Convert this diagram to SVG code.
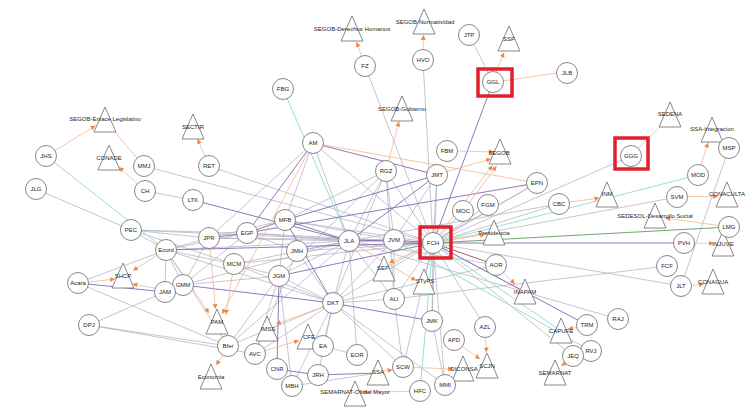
<svg xmlns="http://www.w3.org/2000/svg" xmlns:xlink="http://www.w3.org/1999/xlink" width="750" height="419" viewBox="0 0 750 419">
<style>
.g{stroke:#aeacbf;stroke-width:0.7;fill:none}
.p{stroke:#8468b6;stroke-width:0.9;fill:none}
.t{stroke:#8edbcc;stroke-width:0.9;fill:none}
.gr{stroke:#5f9f5f;stroke-width:0.9;fill:none}
.dr{stroke:#a04848;stroke-width:0.9;fill:none}
.o{stroke:#f4b88f;stroke-width:0.8;fill:none}
.oa{stroke:#f4b88f;stroke-width:0.8;fill:none;marker-end:url(#arr)}
.c{fill:#fff;stroke:#6a6a6a;stroke-width:0.8}
text{font-family:"Liberation Sans",Arial,sans-serif;font-size:6px;fill:#1e1e1e;text-anchor:middle}
.hl{fill:none;stroke:#e2202c;stroke-width:3.5}
</style>
<defs>
<marker id="arr" viewBox="0 0 6 6" refX="6" refY="3" markerWidth="5" markerHeight="5" markerUnits="userSpaceOnUse" orient="auto">
<path d="M0,0 L6,3 L0,6 Z" fill="#f08a4c"/>
</marker>
<path id="tri" d="M0,-13 L11,12 L-11,12 Z" fill="#fff" stroke="#6a6a6a" stroke-width="0.8"/>
</defs>
<rect width="750" height="419" fill="#fff"/>
<g id="edges">
<line class="g" x1="36" y1="189" x2="131" y2="230"/>
<line class="g" x1="144" y1="166" x2="433" y2="243"/>
<line class="g" x1="209" y1="166" x2="433" y2="243"/>
<line class="g" x1="145" y1="191" x2="193" y2="200"/>
<line class="g" x1="131" y1="230" x2="166" y2="250"/>
<line class="g" x1="131" y1="230" x2="209" y2="238"/>
<line class="g" x1="131" y1="230" x2="247" y2="233"/>
<line class="g" x1="131" y1="230" x2="433" y2="243"/>
<line class="g" x1="131" y1="230" x2="234" y2="264"/>
<line class="g" x1="78" y1="283" x2="166" y2="250"/>
<line class="g" x1="78" y1="283" x2="228" y2="346"/>
<line class="g" x1="89" y1="325" x2="165" y2="292"/>
<line class="g" x1="89" y1="325" x2="228" y2="346"/>
<line class="g" x1="89" y1="325" x2="255" y2="354"/>
<line class="g" x1="166" y1="250" x2="165" y2="292"/>
<line class="g" x1="166" y1="250" x2="183" y2="285"/>
<line class="g" x1="166" y1="250" x2="209" y2="238"/>
<line class="g" x1="166" y1="250" x2="247" y2="233"/>
<line class="g" x1="166" y1="250" x2="234" y2="264"/>
<line class="g" x1="166" y1="250" x2="349" y2="241"/>
<line class="g" x1="166" y1="250" x2="333" y2="303"/>
<line class="g" x1="166" y1="250" x2="228" y2="346"/>
<line class="g" x1="165" y1="292" x2="183" y2="285"/>
<line class="g" x1="183" y1="285" x2="209" y2="238"/>
<line class="g" x1="183" y1="285" x2="247" y2="233"/>
<line class="g" x1="183" y1="285" x2="279" y2="276"/>
<line class="g" x1="183" y1="285" x2="349" y2="241"/>
<line class="g" x1="209" y1="238" x2="285" y2="220"/>
<line class="g" x1="209" y1="238" x2="349" y2="241"/>
<line class="g" x1="209" y1="238" x2="394" y2="240"/>
<line class="g" x1="247" y1="233" x2="349" y2="241"/>
<line class="g" x1="247" y1="233" x2="433" y2="243"/>
<line class="g" x1="247" y1="233" x2="297" y2="251"/>
<line class="g" x1="234" y1="264" x2="349" y2="241"/>
<line class="g" x1="234" y1="264" x2="433" y2="243"/>
<line class="g" x1="234" y1="264" x2="279" y2="276"/>
<line class="g" x1="234" y1="264" x2="333" y2="303"/>
<line class="g" x1="285" y1="220" x2="394" y2="240"/>
<line class="g" x1="285" y1="220" x2="433" y2="243"/>
<line class="g" x1="285" y1="220" x2="279" y2="276"/>
<line class="g" x1="285" y1="220" x2="313" y2="143"/>
<line class="g" x1="285" y1="220" x2="386" y2="171"/>
<line class="g" x1="297" y1="251" x2="349" y2="241"/>
<line class="g" x1="297" y1="251" x2="333" y2="303"/>
<line class="g" x1="297" y1="251" x2="433" y2="243"/>
<line class="g" x1="279" y1="276" x2="349" y2="241"/>
<line class="g" x1="279" y1="276" x2="333" y2="303"/>
<line class="g" x1="279" y1="276" x2="292" y2="386"/>
<line class="g" x1="279" y1="276" x2="255" y2="354"/>
<line class="g" x1="228" y1="346" x2="279" y2="276"/>
<line class="g" x1="228" y1="346" x2="333" y2="303"/>
<line class="g" x1="228" y1="346" x2="349" y2="241"/>
<line class="g" x1="255" y1="354" x2="333" y2="303"/>
<line class="g" x1="255" y1="354" x2="297" y2="251"/>
<line class="g" x1="318" y1="375" x2="333" y2="303"/>
<line class="g" x1="292" y1="386" x2="333" y2="303"/>
<line class="g" x1="292" y1="386" x2="378" y2="373"/>
<line class="g" x1="323" y1="346" x2="333" y2="303"/>
<line class="g" x1="333" y1="303" x2="349" y2="241"/>
<line class="g" x1="333" y1="303" x2="394" y2="240"/>
<line class="g" x1="333" y1="303" x2="433" y2="243"/>
<line class="g" x1="333" y1="303" x2="403" y2="367"/>
<line class="g" x1="333" y1="303" x2="394" y2="299"/>
<line class="g" x1="333" y1="303" x2="445" y2="385"/>
<line class="g" x1="357" y1="355" x2="349" y2="241"/>
<line class="g" x1="349" y1="241" x2="433" y2="243"/>
<line class="g" x1="349" y1="241" x2="386" y2="171"/>
<line class="g" x1="349" y1="241" x2="313" y2="143"/>
<line class="g" x1="349" y1="241" x2="394" y2="299"/>
<line class="g" x1="394" y1="240" x2="386" y2="171"/>
<line class="g" x1="394" y1="240" x2="394" y2="299"/>
<line class="g" x1="394" y1="240" x2="437" y2="175"/>
<line class="g" x1="433" y1="243" x2="386" y2="171"/>
<line class="g" x1="433" y1="243" x2="437" y2="175"/>
<line class="g" x1="433" y1="243" x2="313" y2="143"/>
<line class="g" x1="433" y1="243" x2="463" y2="211"/>
<line class="g" x1="433" y1="243" x2="488" y2="205"/>
<line class="g" x1="433" y1="243" x2="537" y2="183"/>
<line class="g" x1="433" y1="243" x2="559" y2="204"/>
<line class="g" x1="433" y1="243" x2="631" y2="156"/>
<line class="g" x1="433" y1="243" x2="365" y2="66"/>
<line class="g" x1="433" y1="243" x2="423" y2="60"/>
<line class="g" x1="433" y1="243" x2="677" y2="197"/>
<line class="g" x1="433" y1="243" x2="681" y2="286"/>
<line class="g" x1="433" y1="243" x2="573" y2="356"/>
<line class="g" x1="433" y1="243" x2="525" y2="292"/>
<line class="g" x1="433" y1="243" x2="485" y2="327"/>
<line class="g" x1="433" y1="243" x2="432" y2="321"/>
<line class="g" x1="433" y1="243" x2="394" y2="299"/>
<line class="g" x1="433" y1="243" x2="403" y2="367"/>
<line class="g" x1="433" y1="243" x2="445" y2="385"/>
<line class="g" x1="433" y1="243" x2="424" y2="282"/>
<line class="g" x1="394" y1="299" x2="403" y2="367"/>
<line class="g" x1="394" y1="299" x2="667" y2="266"/>
<line class="g" x1="432" y1="321" x2="445" y2="385"/>
<line class="g" x1="618" y1="319" x2="349" y2="241"/>
<line class="g" x1="729" y1="148" x2="681" y2="286"/>
<line class="g" x1="313" y1="143" x2="209" y2="238"/>
<line class="g" x1="386" y1="171" x2="333" y2="303"/>
<line class="g" x1="386" y1="171" x2="279" y2="276"/>
<line class="g" x1="386" y1="171" x2="394" y2="299"/>
<line class="g" x1="437" y1="175" x2="432" y2="321"/>
<line class="g" x1="537" y1="183" x2="384" y2="269"/>
<line class="g" x1="559" y1="204" x2="349" y2="241"/>
<line class="g" x1="496" y1="265" x2="333" y2="303"/>
<line class="g" x1="496" y1="265" x2="349" y2="241"/>
<line class="p" x1="193" y1="200" x2="349" y2="241"/>
<line class="p" x1="78" y1="283" x2="165" y2="292"/>
<line class="p" x1="166" y1="250" x2="433" y2="243"/>
<line class="p" x1="183" y1="285" x2="333" y2="303"/>
<line class="p" x1="209" y1="238" x2="247" y2="233"/>
<line class="p" x1="247" y1="233" x2="285" y2="220"/>
<line class="p" x1="285" y1="220" x2="349" y2="241"/>
<line class="p" x1="285" y1="220" x2="333" y2="303"/>
<line class="p" x1="285" y1="220" x2="437" y2="175"/>
<line class="p" x1="279" y1="276" x2="277" y2="369"/>
<line class="p" x1="279" y1="276" x2="433" y2="243"/>
<line class="p" x1="277" y1="369" x2="318" y2="375"/>
<line class="p" x1="318" y1="375" x2="378" y2="373"/>
<line class="p" x1="333" y1="303" x2="432" y2="321"/>
<line class="p" x1="349" y1="241" x2="394" y2="240"/>
<line class="p" x1="349" y1="241" x2="437" y2="175"/>
<line class="p" x1="394" y1="240" x2="433" y2="243"/>
<line class="p" x1="433" y1="243" x2="493" y2="82"/>
<line class="p" x1="433" y1="243" x2="684" y2="243"/>
<line class="p" x1="433" y1="243" x2="587" y2="325"/>
<line class="p" x1="313" y1="143" x2="437" y2="175"/>
<line class="p" x1="313" y1="143" x2="247" y2="233"/>
<line class="p" x1="537" y1="183" x2="247" y2="233"/>
<line class="t" x1="46" y1="156" x2="166" y2="250"/>
<line class="t" x1="283" y1="89" x2="349" y2="241"/>
<line class="t" x1="394" y1="240" x2="591" y2="351"/>
<line class="t" x1="433" y1="243" x2="698" y2="175"/>
<line class="t" x1="433" y1="243" x2="561" y2="331"/>
<line class="t" x1="433" y1="243" x2="420" y2="391"/>
<line class="t" x1="469" y1="35" x2="493" y2="82"/>
<line class="gr" x1="433" y1="243" x2="729" y2="227"/>
<line class="dr" x1="433" y1="243" x2="496" y2="265"/>
<line class="o" x1="137" y1="158" x2="113" y2="130"/>
<line class="o" x1="637.5" y1="148.6" x2="661" y2="126"/>
<line class="o" x1="502.5" y1="81" x2="557" y2="73"/>
<line class="o" x1="313" y1="143" x2="537" y2="183"/>
<line class="o" x1="323" y1="346" x2="357" y2="355"/>
<line class="oa" x1="55" y1="150.5" x2="95.6" y2="125.7"/>
<line class="oa" x1="137.3" y1="183.9" x2="119" y2="167"/>
<line class="oa" x1="205" y1="156" x2="197.5" y2="139"/>
<line class="oa" x1="361.5" y1="56" x2="356.5" y2="42"/>
<line class="oa" x1="423" y1="49.5" x2="423.5" y2="35"/>
<line class="oa" x1="495.9" y1="72.2" x2="504" y2="52.5"/>
<line class="oa" x1="457.5" y1="151" x2="494" y2="152"/>
<line class="oa" x1="447" y1="171.4" x2="491" y2="159"/>
<line class="oa" x1="701" y1="165" x2="708" y2="142.5"/>
<line class="oa" x1="569.3" y1="202" x2="599.5" y2="198"/>
<line class="oa" x1="687.5" y1="196.5" x2="718" y2="196.5"/>
<line class="oa" x1="718.6" y1="225.5" x2="665" y2="218"/>
<line class="oa" x1="694.5" y1="243" x2="714" y2="243.5"/>
<line class="oa" x1="692.5" y1="285.5" x2="704" y2="284"/>
<line class="oa" x1="502.8" y1="272" x2="515" y2="284"/>
<line class="oa" x1="576.8" y1="327.4" x2="568" y2="329"/>
<line class="oa" x1="565.4" y1="363.2" x2="561" y2="365.5"/>
<line class="oa" x1="157" y1="255.4" x2="133" y2="270.5"/>
<line class="oa" x1="155.2" y1="288.3" x2="132.5" y2="284"/>
<line class="oa" x1="88.5" y1="282" x2="115" y2="279"/>
<line class="oa" x1="172" y1="258.6" x2="209" y2="313"/>
<line class="oa" x1="210" y1="248.5" x2="215.5" y2="309"/>
<line class="oa" x1="232.4" y1="274.4" x2="226" y2="314.5"/>
<line class="oa" x1="308" y1="152.3" x2="222" y2="314"/>
<line class="oa" x1="323.2" y1="306.8" x2="276" y2="324"/>
<line class="oa" x1="265" y1="350.8" x2="299" y2="340.5"/>
<line class="oa" x1="223" y1="355.2" x2="216" y2="365"/>
<line class="oa" x1="384" y1="371" x2="392.5" y2="370"/>
<line class="oa" x1="413.5" y1="367.4" x2="453" y2="369"/>
<line class="oa" x1="462.2" y1="346.5" x2="480" y2="359"/>
<line class="oa" x1="485.5" y1="337.5" x2="486.5" y2="352.5"/>
<line class="oa" x1="409.5" y1="391.5" x2="362" y2="392"/>
<line class="oa" x1="442.4" y1="241.3" x2="485" y2="234.5"/>
<line class="oa" x1="358" y1="246.3" x2="416" y2="280.5"/>
<line class="oa" x1="423.4" y1="247.3" x2="389" y2="263"/>
<line class="oa" x1="439.4" y1="234.7" x2="492.5" y2="165.5"/>
<line class="oa" x1="469.3" y1="202.6" x2="496.5" y2="166"/>
<line class="oa" x1="388.6" y1="160.8" x2="399" y2="121.5"/>
</g>
<g id="n-SEGOB-Enlace"><use href="#tri" x="105" y="120"/><text x="105" y="121">SEGOB-Enlace Legislativo</text></g>
<g id="n-SECTIR"><use href="#tri" x="193" y="127"/><text x="193" y="129">SECTIR</text></g>
<g id="n-CONADE"><use href="#tri" x="109" y="158"/><text x="109" y="160">CONADE</text></g>
<g id="n-SEGOB-DH"><use href="#tri" x="352" y="29"/><text x="352" y="31">SEGOB-Derechos Humanos</text></g>
<g id="n-SEGOB-Norm"><use href="#tri" x="424" y="22"/><text x="425" y="24">SEGOB-Normatividad</text></g>
<g id="n-SEGOB-Gob"><use href="#tri" x="402" y="109"/><text x="402" y="111">SEGOB-Gobierno</text></g>
<g id="n-SSP"><use href="#tri" x="509" y="39"/><text x="509" y="41">SSP</text></g>
<g id="n-SEGOB"><use href="#tri" x="500" y="152"/><text x="499" y="155">SEGOB</text></g>
<g id="n-SEDENA"><use href="#tri" x="670" y="115"/><text x="670" y="116">SEDENA</text></g>
<g id="n-SSA-Int"><use href="#tri" x="712" y="130"/><text x="712" y="131">SSA-Integracion</text></g>
<g id="n-INM"><use href="#tri" x="607" y="195"/><text x="607" y="196">INM</text></g>
<g id="n-CONACULTA"><use href="#tri" x="727" y="195"/><text x="727" y="196">CONACULTA</text></g>
<g id="n-SEDESOL"><use href="#tri" x="655" y="216"/><text x="655" y="218">SEDESOL-Desarrollo Social</text></g>
<g id="n-Presidencia"><use href="#tri" x="494" y="233"/><text x="494" y="235">Presidencia</text></g>
<g id="n-INJUVE"><use href="#tri" x="723" y="244"/><text x="723" y="246">INJUVE</text></g>
<g id="n-CONAGUA"><use href="#tri" x="713" y="282"/><text x="713" y="284">CONAGUA</text></g>
<g id="n-INAPAM"><use href="#tri" x="525" y="292"/><text x="525" y="294">INAPAM</text></g>
<g id="n-CAPUFE"><use href="#tri" x="561" y="331"/><text x="561" y="333">CAPUFE</text></g>
<g id="n-SEMARNAT"><use href="#tri" x="555" y="373"/><text x="555" y="375">SEMARNAT</text></g>
<g id="n-SEP"><use href="#tri" x="384" y="269"/><text x="383" y="270">SEP</text></g>
<g id="n-STyPS"><use href="#tri" x="424" y="282"/><text x="425" y="283">STyPS</text></g>
<g id="n-IMSS"><use href="#tri" x="267" y="329"/><text x="268" y="331">IMSS</text></g>
<g id="n-CFE"><use href="#tri" x="308" y="337"/><text x="309" y="339">CFE</text></g>
<g id="n-SSA"><use href="#tri" x="378" y="373"/><text x="378" y="374">SSA</text></g>
<g id="n-DICONSA"><use href="#tri" x="463" y="369"/><text x="464" y="371">DICONSA</text></g>
<g id="n-SCJN"><use href="#tri" x="487" y="366"/><text x="487" y="368">SCJN</text></g>
<g id="n-SEMARNAT-OM"><use href="#tri" x="355" y="394"/><text x="355" y="394">SEMARNAT-Oficial Mayor</text></g>
<g id="n-SHCP"><use href="#tri" x="123" y="276"/><text x="123" y="278">SHCP</text></g>
<g id="n-PAM"><use href="#tri" x="217" y="322"/><text x="217" y="324">PAM</text></g>
<g id="n-Economia"><use href="#tri" x="211" y="377"/><text x="211" y="379">Economia</text></g>
<g id="n-JHS"><circle class="c" cx="46" cy="156" r="10.5"/><text x="46" y="158">JHS</text></g>
<g id="n-JLG"><circle class="c" cx="36" cy="189" r="10.5"/><text x="36" y="191">JLG</text></g>
<g id="n-MMJ"><circle class="c" cx="144" cy="166" r="10.5"/><text x="144" y="168">MMJ</text></g>
<g id="n-CH"><circle class="c" cx="145" cy="191" r="10.5"/><text x="145" y="193">CH</text></g>
<g id="n-RET"><circle class="c" cx="209" cy="166" r="10.5"/><text x="209" y="168">RET</text></g>
<g id="n-LTK"><circle class="c" cx="193" cy="200" r="10.5"/><text x="193" y="202">LTK</text></g>
<g id="n-PEC"><circle class="c" cx="131" cy="230" r="10.5"/><text x="131" y="232">PEC</text></g>
<g id="n-Ecord"><circle class="c" cx="166" cy="250" r="10.5"/><text x="166" y="252">Ecord</text></g>
<g id="n-JPR"><circle class="c" cx="209" cy="238" r="10.5"/><text x="209" y="240">JPR</text></g>
<g id="n-EGP"><circle class="c" cx="247" cy="233" r="10.5"/><text x="247" y="235">EGP</text></g>
<g id="n-MFB"><circle class="c" cx="285" cy="220" r="10.5"/><text x="285" y="222">MFB</text></g>
<g id="n-MCM"><circle class="c" cx="234" cy="264" r="10.5"/><text x="234" y="266">MCM</text></g>
<g id="n-JMH"><circle class="c" cx="297" cy="251" r="10.5"/><text x="297" y="253">JMH</text></g>
<g id="n-JGM"><circle class="c" cx="279" cy="276" r="10.5"/><text x="279" y="278">JGM</text></g>
<g id="n-JLA"><circle class="c" cx="349" cy="241" r="10.5"/><text x="349" y="243">JLA</text></g>
<g id="n-JVM"><circle class="c" cx="394" cy="240" r="10.5"/><text x="394" y="242">JVM</text></g>
<g id="n-FCH"><circle class="c" cx="433" cy="243" r="10.5"/><text x="433" y="245">FCH</text></g>
<g id="n-GMM"><circle class="c" cx="183" cy="285" r="10.5"/><text x="183" y="287">GMM</text></g>
<g id="n-JAM"><circle class="c" cx="165" cy="292" r="10.5"/><text x="165" y="294">JAM</text></g>
<g id="n-Acara"><circle class="c" cx="78" cy="283" r="10.5"/><text x="78" y="285">Acara</text></g>
<g id="n-DPJ"><circle class="c" cx="89" cy="325" r="10.5"/><text x="89" y="327">DPJ</text></g>
<g id="n-Bfer"><circle class="c" cx="228" cy="346" r="10.5"/><text x="228" y="348">Bfer</text></g>
<g id="n-AVC"><circle class="c" cx="255" cy="354" r="10.5"/><text x="255" y="356">AVC</text></g>
<g id="n-CNR"><circle class="c" cx="277" cy="369" r="10.5"/><text x="277" y="371">CNR</text></g>
<g id="n-MBH"><circle class="c" cx="292" cy="386" r="10.5"/><text x="292" y="388">MBH</text></g>
<g id="n-JRH"><circle class="c" cx="318" cy="375" r="10.5"/><text x="318" y="377">JRH</text></g>
<g id="n-EOR"><circle class="c" cx="357" cy="355" r="10.5"/><text x="357" y="357">EOR</text></g>
<g id="n-EA"><circle class="c" cx="323" cy="346" r="10.5"/><text x="323" y="348">EA</text></g>
<g id="n-DKT"><circle class="c" cx="333" cy="303" r="10.5"/><text x="333" y="305">DKT</text></g>
<g id="n-ALI"><circle class="c" cx="394" cy="299" r="10.5"/><text x="394" y="301">ALI</text></g>
<g id="n-JMK"><circle class="c" cx="432" cy="321" r="10.5"/><text x="432" y="323">JMK</text></g>
<g id="n-SCW"><circle class="c" cx="403" cy="367" r="10.5"/><text x="403" y="369">SCW</text></g>
<g id="n-HFC"><circle class="c" cx="420" cy="391" r="10.5"/><text x="420" y="393">HFC</text></g>
<g id="n-MMI"><circle class="c" cx="445" cy="385" r="10.5"/><text x="445" y="387">MMI</text></g>
<g id="n-APD"><circle class="c" cx="454" cy="340" r="10.5"/><text x="454" y="342">APD</text></g>
<g id="n-AZL"><circle class="c" cx="485" cy="327" r="10.5"/><text x="485" y="329">AZL</text></g>
<g id="n-AOR"><circle class="c" cx="496" cy="265" r="10.5"/><text x="496" y="267">AOR</text></g>
<g id="n-MOC"><circle class="c" cx="463" cy="211" r="10.5"/><text x="463" y="213">MOC</text></g>
<g id="n-FGM"><circle class="c" cx="488" cy="205" r="10.5"/><text x="488" y="207">FGM</text></g>
<g id="n-FBM"><circle class="c" cx="447" cy="151" r="10.5"/><text x="447" y="153">FBM</text></g>
<g id="n-JMT"><circle class="c" cx="437" cy="175" r="10.5"/><text x="437" y="177">JMT</text></g>
<g id="n-RGZ"><circle class="c" cx="386" cy="171" r="10.5"/><text x="386" y="173">RGZ</text></g>
<g id="n-AM"><circle class="c" cx="313" cy="143" r="10.5"/><text x="313" y="145">AM</text></g>
<g id="n-FBG"><circle class="c" cx="283" cy="89" r="10.5"/><text x="283" y="91">FBG</text></g>
<g id="n-FZ"><circle class="c" cx="365" cy="66" r="10.5"/><text x="365" y="68">FZ</text></g>
<g id="n-HVO"><circle class="c" cx="423" cy="60" r="10.5"/><text x="423" y="62">HVO</text></g>
<g id="n-JTP"><circle class="c" cx="469" cy="35" r="10.5"/><text x="469" y="37">JTP</text></g>
<g id="n-GGL"><circle class="c" cx="493" cy="82" r="10.5"/><text x="493" y="84">GGL</text></g>
<g id="n-JLB"><circle class="c" cx="567" cy="73" r="10.5"/><text x="567" y="75">JLB</text></g>
<g id="n-GGG"><circle class="c" cx="631" cy="156" r="10.5"/><text x="631" y="158">GGG</text></g>
<g id="n-EPN"><circle class="c" cx="537" cy="183" r="10.5"/><text x="537" y="185">EPN</text></g>
<g id="n-CBC"><circle class="c" cx="559" cy="204" r="10.5"/><text x="559" y="206">CBC</text></g>
<g id="n-MOD"><circle class="c" cx="698" cy="175" r="10.5"/><text x="698" y="177">MOD</text></g>
<g id="n-MSP"><circle class="c" cx="729" cy="148" r="10.5"/><text x="729" y="150">MSP</text></g>
<g id="n-SVM"><circle class="c" cx="677" cy="197" r="10.5"/><text x="677" y="199">SVM</text></g>
<g id="n-LMG"><circle class="c" cx="729" cy="227" r="10.5"/><text x="729" y="229">LMG</text></g>
<g id="n-PVH"><circle class="c" cx="684" cy="243" r="10.5"/><text x="684" y="245">PVH</text></g>
<g id="n-FCF"><circle class="c" cx="667" cy="266" r="10.5"/><text x="667" y="268">FCF</text></g>
<g id="n-JLT"><circle class="c" cx="681" cy="286" r="10.5"/><text x="681" y="288">JLT</text></g>
<g id="n-RAJ"><circle class="c" cx="618" cy="319" r="10.5"/><text x="618" y="321">RAJ</text></g>
<g id="n-TRM"><circle class="c" cx="587" cy="325" r="10.5"/><text x="587" y="327">TRM</text></g>
<g id="n-RVJ"><circle class="c" cx="591" cy="351" r="10.5"/><text x="591" y="353">RVJ</text></g>
<g id="n-JEQ"><circle class="c" cx="573" cy="356" r="10.5"/><text x="573" y="358">JEQ</text></g>
<g id="highlights">
<rect class="hl" x="478" y="69" width="34" height="27"/>
<rect class="hl" x="615" y="138" width="33" height="31"/>
<rect class="hl" x="420" y="227" width="31" height="31"/>
</g>
</svg>
